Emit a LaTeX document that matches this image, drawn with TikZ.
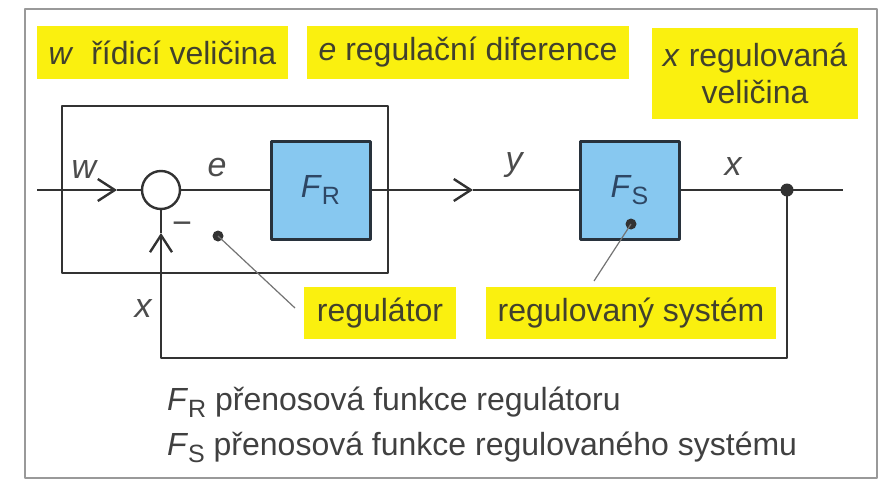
\documentclass[tikz,border=0pt]{standalone}
\usepackage{fontspec}
\setmainfont{Liberation Sans}
\usetikzlibrary{arrows.meta}

\definecolor{zluta}{RGB}{250,240,15}
\definecolor{modra}{RGB}{135,200,240}
\definecolor{okraj}{RGB}{40,50,60}
\definecolor{vodicol}{RGB}{50,50,50}
\definecolor{textcol}{RGB}{65,65,45}
\definecolor{modratext}{RGB}{45,70,100}

% F s indexem
\newcommand{\Fi}[1]{\textit{F}\raisebox{-0.45ex}{\fontsize{12.5}{12.5}\selectfont #1}}

\begin{document}
\begin{tikzpicture}[x=0.5pt,y=-0.5pt,line join=round,
  popis/.style={fill=zluta,text=textcol,inner sep=0pt,
    font=\fontsize{16}{18.5}\selectfont},
  blok/.style={draw=okraj,line width=1.5pt,fill=modra,inner sep=0pt,
    minimum width=49.5pt,minimum height=49pt,text=modratext,
    font=\fontsize{16}{18}\selectfont},
  vel/.style={text=black!70,font=\fontsize{17}{17}\selectfont\itshape},
  vodic/.style={draw=vodicol,line width=1.2pt},
  sig/.style={-{Straight Barb[length=8.5pt,width=11pt]}},
  odkaz/.style={draw=black!55,line width=0.6pt},
  tecka/.style={circle,fill=vodicol,inner sep=0pt,minimum size=5.5pt}]

\useasboundingbox (0,0) rectangle (883,482);
\draw[black!40,line width=1pt] (25,9) rectangle (877,478);

% popisky nahore
\node[popis,minimum width=125.5pt,minimum height=26.5pt] (lw) at (162.5,52.5)
  {\textit{w}\ \ řídicí veličina};
\node[popis,minimum width=161pt,minimum height=26.5pt] (le) at (468,52.5)
  {\textit{e} regulační diference};
\node[popis,minimum width=103pt,minimum height=45.5pt,align=center] (lx) at (755,73.5)
  {\textit{x} regulovaná\\veličina};

% regulator
\node[vodic,minimum width=163pt,minimum height=83.5pt] (ramec) at (225,189.5) {};

\coordinate (vstup) at (37,190);
\coordinate (hw) at (117,190);
\node[circle,vodic,fill=white,minimum size=19pt,inner sep=0pt] (sum) at (161,190) {};
\node[blok] (FR) at (320.5,190) {\Fi{R}};
\coordinate (hy) at (473,190);
\node[blok] (FS) at (629.5,190) {\Fi{S}};
\node[tecka,minimum size=6.5pt] (uzel) at (787,190) {};
\coordinate (vystup) at (843,190);
\coordinate (zpet) at (161,358);
\coordinate (hx) at (161,233);

\draw[vodic,sig] (vstup) -- (hw);
\draw[vodic] (hw) -- (sum.west);
\draw[vodic] (sum.east) -- (FR.west);
\draw[vodic,sig] (FR.east) -- (hy);
\draw[vodic] (hy) -- (FS.west);
\draw[vodic] (FS.east) -- (vystup);
\draw[vodic,sig] (uzel.center) |- (zpet) -- (hx);
\draw[vodic] (hx) -- (sum.south);

\node[vel] (tw) at (84,170) {w};
\node[vel] (te) at (217,168) {e};
\node[vel] (ty) at (514,165) {y};
\node[vel] (tx) at (733,167) {x};
\node[vel] (tx2) at (143,309) {x};
\node[text=black!70,font=\fontsize{17}{17}\selectfont] (minus) at (182,228) {−};

% odkazy na popisky
\node[popis,minimum width=76pt,minimum height=26pt] (lreg) at (380,313) {regulátor};
\node[popis,minimum width=145pt,minimum height=26pt] (lsys) at (631,313) {regulovaný systém};
\node[tecka] (tr) at (218,236) {};
\node[tecka] (ts) at (631,224) {};
\coordinate (kr) at (295,308);
\coordinate (ks) at (594,281);
\draw[odkaz] (tr.center) -- (kr);
\draw[odkaz] (ts.center) -- (ks);

% legenda
\node[anchor=base west,text=black!75,font=\fontsize{16}{18}\selectfont] (leg1) at (160,410)
  {\Fi{R} přenosová funkce regulátoru};
\node[anchor=base west,text=black!75,font=\fontsize{16}{18}\selectfont] (leg2) at (160,455)
  {\Fi{S} přenosová funkce regulovaného systému};

\end{tikzpicture}
\end{document}
